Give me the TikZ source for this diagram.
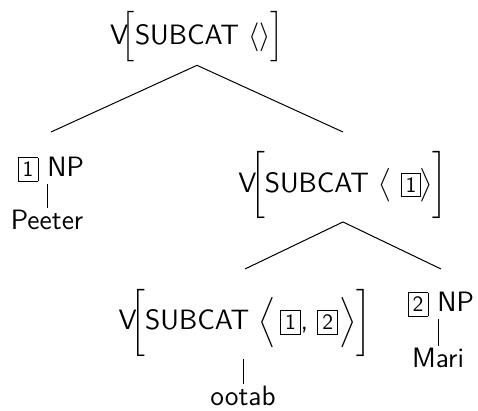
\documentclass[tikz,border=0pt]{standalone}
\usepackage{amsmath}
\usepackage{amssymb}
\newcommand{\tagbox}[1]{{\setlength{\fboxsep}{2pt}\fbox{\fontsize{11}{13}\selectfont #1}}}

\begin{document}
\begin{tikzpicture}[x=0.5pt, y=-0.5pt,
  every node/.style={font=\sffamily\fontsize{14}{17}\selectfont, inner sep=1pt},
  branch/.style={line width=0.5pt},
  unary/.style={line width=0.5pt}]
\useasboundingbox (0,0) rectangle (478,411);
\coordinate (lvla) at (0,132);
\coordinate (lvlb) at (0,269);
\node (root) at (197, 37) {$\text{V}\mkern-4mu\Big[\mkern0mu\text{SUBCAT}\ \langle\rangle\Big]$};
\node (np1) [anchor=base] at (51, 177) {\tagbox{1} NP};
\node (peeter) [anchor=base] at (47, 230) {Peeter};
\node (v1) at (343, 185) {$\text{V}\mkern-4mu\bigg[\mkern0mu\text{SUBCAT}\ \big\langle\mkern6mu\tagbox{1}\mkern-1mu\big\rangle\bigg]$};
\node (v2) at (245, 322.5) {$\text{V}\mkern-4mu\bigg[\mkern0mu\text{SUBCAT}\ \Big\langle\mkern3mu\tagbox{1}\text{, }\tagbox{2}\mkern1mu\Big\rangle\bigg]$};
\node (ootab) [anchor=base] at (243, 406) {ootab};
\node (np2) [anchor=base] at (441, 312) {\tagbox{2} NP};
\node (mari) [anchor=base] at (438, 368) {Mari};
\draw [branch] (root.south) -- (np1 |- lvla);
\draw [branch] (root.south) -- (v1 |- lvla);
\draw [branch] (v1.south) -- (v2 |- lvlb);
\draw [branch] (v1.south) -- (np2 |- lvlb);
\draw [unary] (peeter.north |- np1.south) -- (peeter.north);
\draw [unary] (ootab.north |- v2.south) -- (ootab.north);
\draw [unary] (mari.north |- np2.south) -- (mari.north);
\end{tikzpicture}
\end{document}
